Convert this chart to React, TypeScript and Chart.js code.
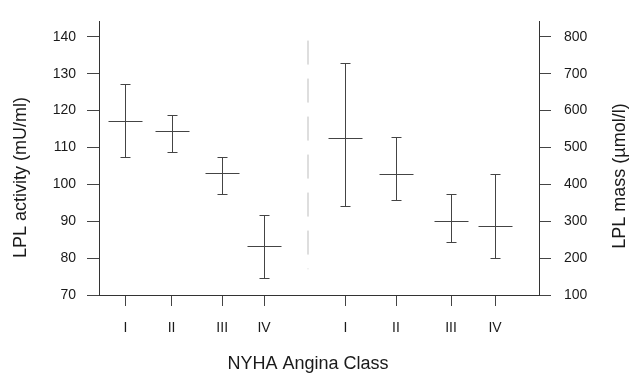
import React, { useEffect, useRef } from 'react';
import { Chart, registerables } from 'chart.js';

Chart.register(...registerables);

// ---- data ----
const categories = ['I', 'II', 'III', 'IV'];
// horizontal placement of the classes (x scale runs 0..10)
const activityX = [0.6, 1.65, 2.8, 3.75];
const massX = [5.6, 6.75, 8.0, 9.0];
const dividerX = 4.75;
const dividerRange = [139, 77];

// LPL activity (mU/ml), left axis
const activityMean = [117.3, 114.6, 103.2, 83.2];
const activityHigh = [127.2, 118.8, 107.4, 91.7];
const activityLow = [107.3, 108.8, 97.5, 74.7];

// LPL mass (µmol/l), right axis
const massMean = [527, 429, 300, 287];
const massHigh = [728, 528, 373, 429];
const massLow = [342, 358, 243, 200];

const activityTicks = [70, 80, 90, 100, 110, 120, 130, 140];
const massTicks = [100, 200, 300, 400, 500, 600, 700, 800];

const xTitle = 'NYHA Angina Class';
const leftTitle = 'LPL activity (mU/ml)';
const rightTitle = 'LPL mass (µmol/l)';

const FONT = '"Liberation Sans", Arial, Helvetica, sans-serif';
const INK = '#1a1a1a';
const LINE = '#444';

const errorBarPlugin = {
  id: 'errorBars',
  afterDatasetsDraw(chart: any) {
    const ctx = chart.ctx;
    const xs = chart.scales.x;
    chart.data.datasets.forEach((ds: any) => {
      if (!ds.errorBars) return;
      const ys = chart.scales[ds.yAxisID];
      ctx.save();
      ctx.strokeStyle = ds.borderColor;
      ctx.lineWidth = 1;
      ds.data.forEach((p: any) => {
        const px = Math.round(xs.getPixelForValue(p.x)) + 0.5;
        const yh = Math.round(ys.getPixelForValue(p.high)) + 0.5;
        const yl = Math.round(ys.getPixelForValue(p.low)) + 0.5;
        const ym = Math.round(ys.getPixelForValue(p.y)) + 0.5;
        ctx.beginPath();
        ctx.moveTo(px, yh);
        ctx.lineTo(px, yl);
        ctx.moveTo(px - 5, yh);
        ctx.lineTo(px + 5, yh);
        ctx.moveTo(px - 5, yl);
        ctx.lineTo(px + 5, yl);
        ctx.moveTo(px - 17, ym);
        ctx.lineTo(px + 17, ym);
        ctx.stroke();
      });
      ctx.restore();
    });
  },
};

const titlePlugin = {
  id: 'axisTitles',
  afterDraw(chart: any) {
    const ctx = chart.ctx;
    ctx.save();
    ctx.fillStyle = INK;
    ctx.font = `18px ${FONT}`;
    ctx.textAlign = 'center';
    ctx.textBaseline = 'middle';
    ctx.fillText(xTitle, 308, 364);
    ctx.save();
    ctx.translate(21.5, 177.5);
    ctx.rotate(-Math.PI / 2);
    ctx.fillText(leftTitle, 0, 0);
    ctx.restore();
    ctx.save();
    ctx.translate(620, 176);
    ctx.rotate(-Math.PI / 2);
    ctx.fillText(rightTitle, 0, 0);
    ctx.restore();
    ctx.restore();
  },
};

export default function App() {
  const ref = useRef<HTMLCanvasElement | null>(null);

  useEffect(() => {
    if (!ref.current) return;
    const xTickLabels = [...categories, ...categories];
    const xTickValues = [...activityX, ...massX];

    const chart = new Chart(ref.current, {
      type: 'scatter',
      data: {
        datasets: [
          {
            type: 'line',
            label: 'divider',
            data: [
              { x: dividerX, y: dividerRange[0] },
              { x: dividerX, y: dividerRange[1] },
            ],
            yAxisID: 'y',
            borderColor: '#bdbdbd',
            borderWidth: 1,
            borderDash: [24, 14],
            pointRadius: 0,
            fill: false,
          } as any,
          {
            label: 'LPL activity',
            data: activityX.map((x, i) => ({
              x,
              y: activityMean[i],
              high: activityHigh[i],
              low: activityLow[i],
            })),
            yAxisID: 'y',
            borderColor: LINE,
            pointRadius: 0,
            errorBars: true,
          } as any,
          {
            label: 'LPL mass',
            data: massX.map((x, i) => ({
              x,
              y: massMean[i],
              high: massHigh[i],
              low: massLow[i],
            })),
            yAxisID: 'y2',
            borderColor: LINE,
            pointRadius: 0,
            errorBars: true,
          } as any,
        ],
      },
      options: {
        animation: false,
        responsive: true,
        maintainAspectRatio: false,
        layout: { padding: { top: 15, left: 0, right: 0, bottom: 0 } },
        font: { family: FONT } as any,
        plugins: {
          legend: { display: false },
          tooltip: { enabled: false },
        },
        scales: {
          x: {
            type: 'linear',
            position: 'bottom',
            min: 0,
            max: 10,
            afterFit: (s: any) => {
              s.height = 78;
            },
            afterBuildTicks: (axis: any) => {
              axis.ticks = xTickValues.map((v) => ({ value: v }));
            },
            ticks: {
              autoSkip: false,
              maxRotation: 0,
              padding: 14,
              color: INK,
              font: { family: FONT, size: 14 },
              callback: (_v: any, i: number) => xTickLabels[i],
            },
            grid: {
              drawOnChartArea: false,
              drawTicks: true,
              tickLength: 11,
              color: LINE,
            },
            border: { display: true, color: '#333', width: 1 },
          },
          y: {
            type: 'linear',
            position: 'left',
            min: 70,
            max: 144.2,
            afterFit: (s: any) => {
              s.width = 99;
            },
            afterBuildTicks: (axis: any) => {
              axis.ticks = activityTicks.map((v) => ({ value: v }));
            },
            ticks: {
              padding: 11,
              color: INK,
              font: { family: FONT, size: 14 },
            },
            grid: {
              drawOnChartArea: false,
              drawTicks: true,
              tickLength: 12,
              color: LINE,
            },
            border: { display: true, color: '#333', width: 1 },
          },
          y2: {
            type: 'linear',
            position: 'right',
            min: 100,
            max: 842,
            afterFit: (s: any) => {
              s.width = 90;
            },
            afterBuildTicks: (axis: any) => {
              axis.ticks = massTicks.map((v) => ({ value: v }));
            },
            ticks: {
              padding: 13,
              color: INK,
              font: { family: FONT, size: 14 },
            },
            grid: {
              drawOnChartArea: false,
              drawTicks: true,
              tickLength: 12,
              color: LINE,
            },
            border: { display: true, color: '#333', width: 1 },
          },
        },
      } as any,
      plugins: [errorBarPlugin, titlePlugin],
    });

    return () => chart.destroy();
  }, []);

  return (
    <div
      style={{
        position: 'absolute',
        left: 0,
        top: 0,
        width: 629,
        height: 373,
        background: '#fff',
      }}
    >
      <canvas ref={ref} />
    </div>
  );
}
